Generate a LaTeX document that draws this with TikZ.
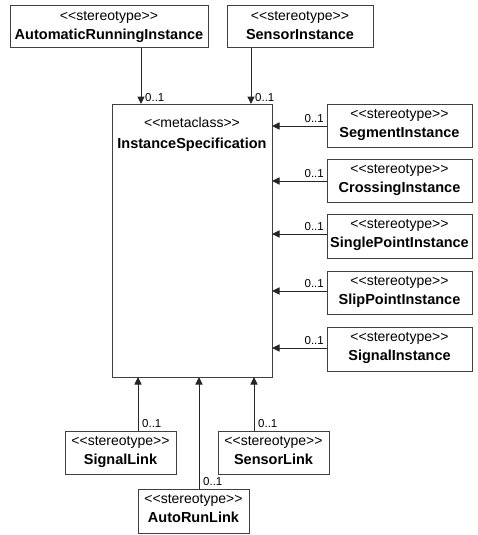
\documentclass[tikz,border=0pt]{standalone}
\usepackage{fontspec}
\setmainfont{Liberation Sans}
\usetikzlibrary{arrows.meta}
\begin{document}
\begin{tikzpicture}[x=1pt,y=-1pt,
  umlbox/.style={draw=black!75,line width=1pt,fill=white},
  stereo/.style={font=\fontsize{14}{16}\selectfont,inner sep=0pt,anchor=base},
  cname/.style={font=\fontsize{14.5}{17}\selectfont\bfseries,inner sep=0pt,anchor=base},
  assoc/.style={draw=black!85,line width=1pt,-{Triangle[length=7.5pt,width=7pt]}},
  mult/.style={font=\fontsize{11.5}{13}\selectfont,inner sep=0pt}]
\useasboundingbox (0,0) rectangle (478,535);

% metaclass
\draw[umlbox] (112,104) rectangle (272,377);
\node[stereo] at (192,127) {<{}<metaclass>{}>};
\node[cname] at (192,148) {InstanceSpecification};

% stereotype boxes: corners and class name
\newcommand{\stbox}[5]{%
  \draw[umlbox] (#1,#2) rectangle (#3,#4);
  \node[stereo] at ({(#1+#3)/2},{#2+14.5}) {<{}<stereotype>{}>};
  \node[cname] at ({(#1+#3)/2},{#2+33.5}) {#5};}

\stbox{10}{6}{208}{48}{AutomaticRunningInstance}
\stbox{227}{6}{373}{48}{SensorInstance}
\stbox{327}{104}{472}{147}{SegmentInstance}
\stbox{327}{159}{472}{202}{CrossingInstance}
\stbox{327}{214}{472}{258}{SinglePointInstance}
\stbox{327}{271}{472}{314}{SlipPointInstance}
\stbox{327}{327}{472}{371}{SignalInstance}
\stbox{65}{431}{176}{474}{SignalLink}
\stbox{218}{431}{329}{474}{SensorLink}
\stbox{138}{489}{249}{533}{AutoRunLink}

% associations pointing into the metaclass
\draw[assoc] (141,48) -- (141,104);
\node[mult,anchor=base west] at (145,101) {0..1};
\draw[assoc] (251,48) -- (251,104);
\node[mult,anchor=base west] at (255,101) {0..1};

\foreach \yy in {126,181,234,291,348}{
  \draw[assoc] (327,\yy) -- (272,\yy);
  \node[mult,anchor=base east] at (324,\yy-4) {0..1};
}

\draw[assoc] (138,431) -- (138,377);
\node[mult,anchor=base west] at (142,427) {0..1};
\draw[assoc] (254,431) -- (254,377);
\node[mult,anchor=base west] at (258,427) {0..1};
\draw[assoc] (199,489) -- (199,377);
\node[mult,anchor=base west] at (203,485) {0..1};
\end{tikzpicture}
\end{document}
